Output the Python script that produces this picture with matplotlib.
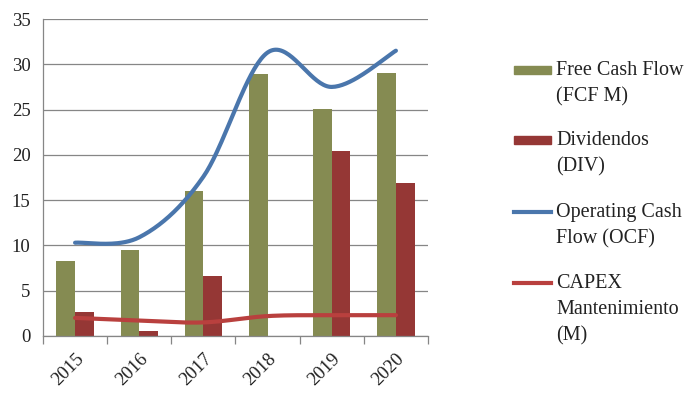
import numpy as np
import matplotlib
matplotlib.use("Agg")
import matplotlib.pyplot as plt
from matplotlib.patches import Rectangle
from matplotlib.lines import Line2D

years = ["2015", "2016", "2017", "2018", "2019", "2020"]
fcf = [8.3, 9.5, 16.0, 28.9, 25.1, 29.0]
div = [2.7, 0.6, 6.6, 0.0, 20.4, 16.9]
ocf = [10.3, 10.9, 17.6, 31.3, 27.5, 31.5]
capex = [2.0, 1.7, 1.5, 2.2, 2.3, 2.3]
labels = ["Free Cash Flow\n(FCF M)", "Dividendos\n(DIV)",
          "Operating Cash\nFlow (OCF)", "CAPEX\nMantenimiento\n(M)"]

C_FCF = "#858B52"
C_DIV = "#953735"
C_OCF = "#4A76AC"
C_CAP = "#B9403E"
GRID = "#868686"

FONT = "Liberation Serif"
plt.rcParams["font.family"] = [FONT, "DejaVu Serif"]


def smooth(xs, ys, n=40):
    # Catmull-Rom style Bezier smoothing (like Excel smoothed lines)
    xs = np.asarray(xs, float)
    ys = np.asarray(ys, float)
    px = np.concatenate([[xs[0]], xs, [xs[-1]]])
    py = np.concatenate([[ys[0]], ys, [ys[-1]]])
    outx, outy = [], []
    t = np.linspace(0, 1, n)
    for i in range(1, len(px) - 2):
        p0 = np.array([px[i], py[i]])
        p3 = np.array([px[i + 1], py[i + 1]])
        c1 = p0 + (np.array([px[i + 1], py[i + 1]]) - np.array([px[i - 1], py[i - 1]])) / 6
        c2 = p3 - (np.array([px[i + 2], py[i + 2]]) - np.array([px[i], py[i]])) / 6
        b = ((1 - t) ** 3)[:, None] * p0 + (3 * (1 - t) ** 2 * t)[:, None] * c1 \
            + (3 * (1 - t) * t ** 2)[:, None] * c2 + (t ** 3)[:, None] * p3
        outx.extend(b[:, 0])
        outy.extend(b[:, 1])
    return np.array(outx), np.array(outy)


fig = plt.figure(figsize=(6.95, 3.98), dpi=100)
W, H = 695, 398
ax = fig.add_axes([43 / W, 1 - 336 / H, (428 - 43) / W, (336 - 19) / H])

x = np.arange(len(years))
bw = 0.29
ax.bar(x - bw / 2, fcf, bw, color=C_FCF, zorder=2)
ax.bar(x + bw / 2, div, bw, color=C_DIV, zorder=2)

sx, sy = smooth(x, ocf)
ax.plot(sx, sy, color=C_OCF, lw=3, solid_capstyle="round", zorder=3)
sx, sy = smooth(x, capex)
ax.plot(sx, sy, color=C_CAP, lw=3, solid_capstyle="round", zorder=3)

ax.set_xlim(-0.5, len(years) - 0.5)
ax.set_ylim(0, 35)
ax.set_yticks(np.arange(0, 36, 5))
ax.yaxis.grid(True, color=GRID, lw=0.9)
ax.set_axisbelow(True)
for s in ["top", "right"]:
    ax.spines[s].set_visible(False)
for s in ["left", "bottom"]:
    ax.spines[s].set_color(GRID)
    ax.spines[s].set_linewidth(0.9)
ax.tick_params(axis="y", length=0, pad=9, labelsize=13.5, labelcolor="#222222")
ax.set_xticks(x)
ax.set_xticklabels(years, rotation=45, fontsize=13.5, color="#222222", ha="right",
                   rotation_mode="anchor")
ax.tick_params(axis="x", length=0, pad=10)
ax.set_xticks(np.arange(-0.5, len(years), 1), minor=True)
ax.tick_params(axis="x", which="minor", length=6, color=GRID, width=0.9)

# legend drawn manually
def fx(px):
    return px / W

def fy(py):
    return 1 - py / H

entries = [
    ("patch", C_FCF, 70),
    ("patch", C_DIV, 140),
    ("line", C_OCF, 212),
    ("line", C_CAP, 283),
]
for (kind, col, yc), lab in zip(entries, labels):
    if kind == "patch":
        fig.add_artist(Rectangle((fx(514), fy(yc + 4)), fx(551) - fx(514),
                                 fy(yc - 4) - fy(yc + 4), color=col,
                                 transform=fig.transFigure))
    else:
        fig.add_artist(Line2D([fx(514), fx(551)], [fy(yc), fy(yc)], color=col,
                              lw=3, transform=fig.transFigure))
    fig.text(fx(556), fy(yc - 9), lab, ha="left", va="top", fontsize=14.5,
             color="#222222", linespacing=1.5)

fig.savefig("out.png", dpi=100)
